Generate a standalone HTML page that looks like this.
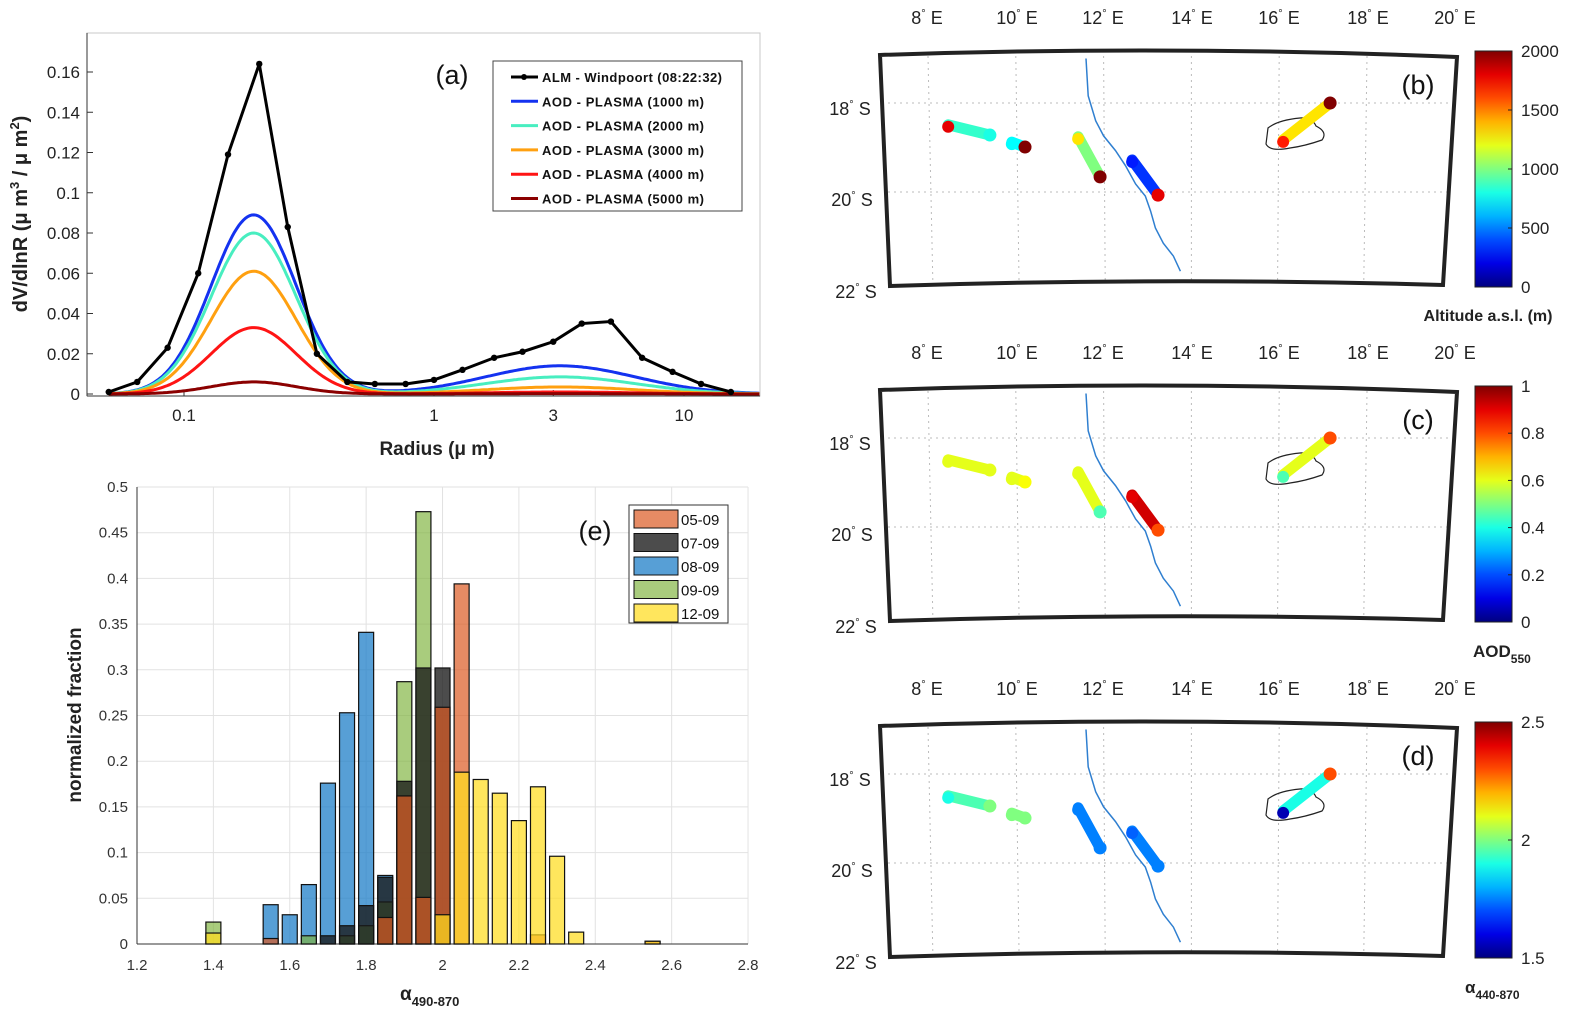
<!DOCTYPE html>
<html><head><meta charset="utf-8">
<style>
html,body{margin:0;padding:0;background:#fff;}
svg{display:block;font-family:"Liberation Sans",sans-serif;}
</style></head>
<body>
<svg id="fig" width="1570" height="1014" viewBox="0 0 1570 1014" xmlns="http://www.w3.org/2000/svg">
<g id="pa"></g>
<g id="pe"></g>
<g id="pm"></g>
</svg>
<script>
// ---------- Panel (a) data ----------
const aRadii = [0.05,0.065,0.086,0.114,0.15,0.2,0.26,0.34,0.45,0.58,0.77,1.0,1.3,1.74,2.26,3.0,3.9,5.1,6.8,9.0,11.7,15.4];
const aAlm = [0.001,0.006,0.023,0.060,0.119,0.164,0.083,0.020,0.006,0.005,0.005,0.007,0.012,0.018,0.021,0.026,0.035,0.036,0.018,0.011,0.005,0.001];
const aSeriesNames = ["AOD - PLASMA (1000 m)","AOD - PLASMA (2000 m)","AOD - PLASMA (3000 m)","AOD - PLASMA (4000 m)","AOD - PLASMA (5000 m)"];
const aFineAmp = [0.089,0.080,0.061,0.033,0.006];
const aCoarseAmp = [0.014,0.0085,0.0035,0.001,0.0002];
const aYTicks = [0,0.02,0.04,0.06,0.08,0.1,0.12,0.14,0.16];
const aYTickLabels = ["0","0.02","0.04","0.06","0.08","0.1","0.12","0.14","0.16"];
const aXTicks = [0.1,1,3,10];
const aXTickLabels = ["0.1","1","3","10"];
// ---------- Panel (e) data ----------
const eBins = [1.40,1.55,1.60,1.65,1.70,1.75,1.80,1.85,1.90,1.95,2.00,2.05,2.10,2.15,2.20,2.25,2.30,2.35,2.55];
const e0509 = [0,0.006,0,0,0,0,0,0.029,0.162,0.051,0.259,0.394,0,0,0,0.010,0,0,0.003];
const e0709 = [0,0,0,0,0.009,0.020,0.042,0.073,0.178,0.302,0.302,0,0,0,0,0,0,0,0];
const e0809 = [0,0.043,0.032,0.065,0.176,0.253,0.341,0.075,0,0,0,0,0,0,0,0,0,0,0];
const e0909 = [0.024,0,0,0.009,0,0.009,0.020,0.046,0.287,0.473,0,0,0,0,0,0,0,0,0];
const e1209 = [0.012,0,0,0,0,0,0,0,0,0,0.032,0.188,0.180,0.165,0.135,0.172,0.096,0.013,0.003];
const eNames = ["05-09","07-09","08-09","09-09","12-09"];
const eYTicks = [0,0.05,0.1,0.15,0.2,0.25,0.3,0.35,0.4,0.45,0.5];
const eYTickLabels = ["0","0.05","0.1","0.15","0.2","0.25","0.3","0.35","0.4","0.45","0.5"];
const eXTicks = [1.2,1.4,1.6,1.8,2,2.2,2.4,2.6,2.8];
const eXTickLabels = ["1.2","1.4","1.6","1.8","2","2.2","2.4","2.6","2.8"];
// ---------- Map data (lon E, lat S) ----------
const trackStart = [[8.46,18.49],[9.91,18.88],[11.42,18.76],[12.65,19.28],[16.09,18.83]];
const trackEnd = [[9.41,18.72],[10.21,18.99],[11.92,19.66],[13.24,20.07],[17.16,18.0]];
const mapBStart = [1800,750,1300,300,1700];
const mapBBody = [850,750,1000,350,1300];
const mapBEnd = [800,2000,2000,1800,2000];
const mapCStart = [0.6,0.6,0.6,0.9,0.45];
const mapCBody = [0.6,0.6,0.6,0.92,0.6];
const mapCEnd = [0.6,0.62,0.45,0.8,0.8];
const mapDStart = [1.9,2.0,1.75,1.72,1.55];
const mapDBody = [1.95,2.0,1.75,1.75,1.9];
const mapDEnd = [2.0,2.0,1.75,1.75,2.3];
const coastLon = [11.6,11.65,11.82,12.0,12.27,12.5,12.73,12.95,13.07,13.18,13.36,13.59,13.75];
const coastLat = [17.0,17.84,18.4,18.74,19.07,19.41,19.82,20.09,20.43,20.81,21.15,21.44,21.78];

const NS="http://www.w3.org/2000/svg";
function mk(parent,tag,attrs,text){const e=document.createElementNS(NS,tag);for(const k in attrs)e.setAttribute(k,attrs[k]);if(text!==undefined)e.textContent=text;parent.appendChild(e);return e;}

// ===== Panel A =====
const pa=document.getElementById('pa');
const ax0=87,ax1=760,ay0=33,ay1=394;
const xA=r=>184+(Math.log10(r)+1)*250;
const yA=v=>394-v/0.02*40.25;
let e;
e=mk(pa,'rect',{x:ax0,y:ay0,width:ax1-ax0,height:ay1-ay0+2,fill:'none',stroke:'#c8c8c8','stroke-width':1});


e=mk(pa,'line',{x1:ax0,y1:396,x2:ax1,y2:396,stroke:'#333','stroke-width':1});


e=mk(pa,'line',{x1:ax0,y1:ay0,x2:ax0,y2:396,stroke:'#333','stroke-width':1});


aYTicks.forEach((t,i)=>{
  mk(pa,'line',{x1:ax0,y1:yA(t),x2:ax0+6,y2:yA(t),stroke:'#333'});
  e=mk(pa,'text',{x:80,y:yA(t)+6,'text-anchor':'end','font-size':17,fill:'#222'},aYTickLabels[i]);
  
  
});
aXTicks.forEach((t,i)=>{
  mk(pa,'line',{x1:xA(t),y1:396,x2:xA(t),y2:390,stroke:'#333'});
  e=mk(pa,'text',{x:xA(t),y:421,'text-anchor':'middle','font-size':17,fill:'#222'},aXTickLabels[i]);
  
  
});
e=mk(pa,'text',{x:437,y:455,'text-anchor':'middle','font-size':19,'font-weight':'bold',fill:'#222'},'Radius (μ m)');


e=mk(pa,'text',{transform:'translate(27,214) rotate(-90)','text-anchor':'middle','font-size':20,'font-weight':'bold',fill:'#222'});
e.innerHTML='dV/dlnR (μ m<tspan dy="-8" font-size="13">3</tspan><tspan dy="8"> / μ m</tspan><tspan dy="-8" font-size="13">2</tspan><tspan dy="8">)</tspan>';


e=mk(pa,'text',{x:452,y:84,'text-anchor':'middle','font-size':27,fill:'#111'},'(a)');


const aColors=['#1432f0','#48eec0','#ffa010','#ff1414','#8b0000'];
function lognorm(r,amp,mu,sig){const d=Math.log10(r)-Math.log10(mu);return amp*Math.exp(-d*d/(2*sig*sig));}
aFineAmp.forEach((fa,i)=>{
  let d='';
  for(let k=0;k<=300;k++){const lr=Math.log10(0.05)+k*(Math.log10(20)-Math.log10(0.05))/300;const r=Math.pow(10,lr);
    const v=lognorm(r,fa,0.19,0.17)+lognorm(r,aCoarseAmp[i],3.2,0.3);
    d+=(k?'L':'M')+xA(r).toFixed(1)+','+yA(v).toFixed(1);}
  e=mk(pa,'path',{d:d,fill:'none',stroke:aColors[i],'stroke-width':3});
  
  
});
{let d='';aRadii.forEach((r,i)=>{d+=(i?'L':'M')+xA(r)+','+yA(aAlm[i]);});
 e=mk(pa,'path',{d:d,fill:'none',stroke:'#000','stroke-width':3});
 
 
 aRadii.forEach((r,i)=>{e=mk(pa,'circle',{cx:xA(r),cy:yA(aAlm[i]),r:3.2,fill:'#000'});
  
  });}
// legend a
e=mk(pa,'rect',{x:493,y:61,width:249,height:150,fill:'#fff',stroke:'#444','stroke-width':1});


const aLegNames=['ALM - Windpoort (08:22:32)'].concat(aSeriesNames);
const aLegCols=['#000'].concat(aColors);
aLegNames.forEach((n,i)=>{const y=77+i*24.3;
  mk(pa,'line',{x1:511,y1:y,x2:538,y2:y,stroke:aLegCols[i],'stroke-width':3});
  if(i===0)mk(pa,'circle',{cx:524,cy:y,r:3,fill:'#000'});
  e=mk(pa,'text',{x:542,y:y+5,'font-size':13,'font-weight':'bold',fill:'#111',textLength:i===0?180:162},n);
  
  
});

// ===== Panel E =====
const pe=document.getElementById('pe');
const ex0=137,ex1=748,ey0=487,ey1=944;
const xE=v=>137+(v-1.2)*381.9;
const yE=v=>944-v*914;
eYTicks.forEach((t,i)=>{
  mk(pe,'line',{x1:ex0,y1:yE(t),x2:ex1,y2:yE(t),stroke:'#e2e2e2','stroke-width':1});
  e=mk(pe,'text',{x:128,y:yE(t)+5,'text-anchor':'end','font-size':15,fill:'#333'},eYTickLabels[i]);
  
  
});
eXTicks.forEach((t,i)=>{
  mk(pe,'line',{x1:xE(t),y1:ey0,x2:xE(t),y2:ey1,stroke:'#e2e2e2','stroke-width':1});
  e=mk(pe,'text',{x:xE(t),y:970,'text-anchor':'middle','font-size':15,fill:'#333'},eXTickLabels[i]);
  
  
});
mk(pe,'line',{x1:ex0,y1:ey0,x2:ex0,y2:ey1,stroke:'#333'});
mk(pe,'line',{x1:ex0,y1:ey1,x2:ex1,y2:ey1,stroke:'#333'});
const eSeries=[e0509,e0709,e0809,e0909,e1209];
const eCols=['#dc5a22','#1a1a1a','#1f7fc8','#80b440','#ffdc1e'];
const eOps=[0.7,0.78,0.75,0.68,0.72];
const eOrder=[2,3,1,0,4];
eOrder.forEach(si=>{
  const s=eSeries[si];
  s.forEach((v,bi)=>{ if(v<=0) return;
    const cx=xE(eBins[bi]);
    e=mk(pe,'rect',{x:cx-7.5,y:yE(v),width:15,height:ey1-yE(v),fill:eCols[si],'fill-opacity':eOps[si],stroke:'#111','stroke-width':1.2});
    
    
  });
});
e=mk(pe,'text',{x:595,y:540,'text-anchor':'middle','font-size':27,fill:'#111'},'(e)');


e=mk(pe,'text',{transform:'translate(81,715) rotate(-90)','text-anchor':'middle','font-size':19,'font-weight':'bold',fill:'#222'},'normalized fraction');


e=mk(pe,'text',{x:400,y:1000,'font-size':19,fill:'#222','font-weight':'bold'});
e.innerHTML='α<tspan dy="6" font-size="13">490-870</tspan>';


e=mk(pe,'rect',{x:629,y:505,width:99,height:118,fill:'#fff',stroke:'#333'});


eNames.forEach((n,i)=>{const y=508+i*23.5;
  mk(pe,'rect',{x:634,y:y+2,width:44,height:18,fill:eCols[i],'fill-opacity':eOps[i],stroke:'#111'});
  e=mk(pe,'text',{x:681,y:y+17,'font-size':15,fill:'#111'},n);
  
  
});

// ===== Maps =====
const pm=document.getElementById('pm');
const lonX=l=>928+(l-8)*43.9;
const latY=l=>103+(l-18)*44.5;
function jet(t){t=Math.max(0,Math.min(1,t));
  const r=Math.max(0,Math.min(1,1.5-Math.abs(4*t-3))),g=Math.max(0,Math.min(1,1.5-Math.abs(4*t-2))),b=Math.max(0,Math.min(1,1.5-Math.abs(4*t-1)));
  return 'rgb('+Math.round(r*255)+','+Math.round(g*255)+','+Math.round(b*255)+')';}
const panels=[
 {off:0,lab:'(b)',min:0,max:2000,s:mapBStart,b:mapBBody,e:mapBEnd,ticks:[0,500,1000,1500,2000],tl:['0','500','1000','1500','2000'],name:'b'},
 {off:335,lab:'(c)',min:0,max:1,s:mapCStart,b:mapCBody,e:mapCEnd,ticks:[0,0.2,0.4,0.6,0.8,1],tl:['0','0.2','0.4','0.6','0.8','1'],name:'c'},
 {off:671,lab:'(d)',min:1.5,max:2.5,s:mapDStart,b:mapDBody,e:mapDEnd,ticks:[1.5,2,2.5],tl:['1.5','2','2.5'],name:'d'}];
const lonTicks=[8,10,12,14,16,18,20];
panels.forEach((p,pi)=>{
  const g=mk(pm,'g',{transform:'translate(0,'+p.off+')'});
  
  
  mk(g,'path',{d:'M880,55 Q1168,45 1457,57 L1443,285 Q1168,277 890,286 Z',fill:'#fff'});
  lonTicks.slice(0,6).forEach(l=>{mk(g,'line',{x1:lonX(l),y1:56,x2:lonX(l)+(l-14)*-0.8,y2:280,stroke:'#bbb','stroke-dasharray':'2,4','stroke-width':1});});
  [18,20].forEach(l=>{mk(g,'line',{x1:888,y1:latY(l),x2:1450,y2:latY(l),stroke:'#bbb','stroke-dasharray':'2,4','stroke-width':1});});
  lonTicks.forEach((l,i)=>{const x=[927,1017,1103,1192,1279,1368,1455][i];
    e=mk(g,'text',{x:x,y:24,'text-anchor':'middle','font-size':18,fill:'#222'});
    e.innerHTML=l+'<tspan dy="-7" font-size="11">°</tspan><tspan dy="7"> E</tspan>';
    
    });
  [[18,850,115],[20,852,206],[22,856,298]].forEach(a=>{
    e=mk(g,'text',{x:a[1],y:a[2],'text-anchor':'middle','font-size':18,fill:'#222'});
    e.innerHTML=a[0]+'<tspan dy="-7" font-size="11">°</tspan><tspan dy="7"> S</tspan>';
    
    });
  let cd='';coastLon.forEach((l,i)=>{cd+=(i?'L':'M')+lonX(l).toFixed(1)+','+latY(coastLat[i]).toFixed(1);});
  e=mk(g,'path',{d:cd,fill:'none',stroke:'#2f7fd0','stroke-width':1.5});
  
  
  e=mk(g,'path',{d:'M1268,128 Q1278,120 1300,118 Q1312,117 1316,126 Q1328,132 1322,140 Q1305,146 1290,148 Q1270,152 1266,144 Z',fill:'none',stroke:'#222','stroke-width':1.2});
  
  
  trackStart.forEach((st,ti)=>{
    const en=trackEnd[ti];
    const x1=lonX(st[0]),y1=latY(st[1]),x2=lonX(en[0]),y2=latY(en[1]);
    const c=v=>jet((v-p.min)/(p.max-p.min));
    e=mk(g,'line',{x1:x1,y1:y1,x2:x2,y2:y2,stroke:c(p.b[ti]),'stroke-width':11,'stroke-linecap':'round'});
    
    
    e=mk(g,'circle',{cx:x1,cy:y1+2,r:6,fill:c(p.s[ti])});
    
    
    e=mk(g,'circle',{cx:x2,cy:y2,r:6.5,fill:c(p.e[ti])});
    
    
  });
  e=mk(g,'path',{d:'M880,55 Q1168,45 1457,57 L1443,285 Q1168,277 890,286 Z',fill:'none',stroke:'#222','stroke-width':4});
  
  
  e=mk(g,'text',{x:1418,y:94,'text-anchor':'middle','font-size':27,fill:'#111'},p.lab);
  
  
  // colorbar
  const gid='jg'+pi;
  const defs=mk(g,'defs',{});
  const lg=mk(defs,'linearGradient',{id:gid,x1:0,y1:1,x2:0,y2:0});
  for(let k=0;k<=10;k++)mk(lg,'stop',{offset:k/10,'stop-color':jet(k/10)});
  const cx0=1475,cy0=51,cy1=287;
  e=mk(g,'rect',{x:cx0,y:cy0,width:37,height:cy1-cy0,fill:'url(#'+gid+')',stroke:'#222','stroke-width':1});
  
  
  p.ticks.forEach((t,i)=>{const y=cy1-(t-p.min)/(p.max-p.min)*(cy1-cy0);
    mk(g,'line',{x1:cx0+33,y1:y,x2:cx0+37,y2:y,stroke:'#222'});
    e=mk(g,'text',{x:1521,y:y+6,'font-size':17,fill:'#222'},p.tl[i]);
    
    });
});
e=mk(pm,'text',{x:1488,y:321,'text-anchor':'middle','font-size':16,'font-weight':'bold',fill:'#222'},'Altitude a.s.l. (m)');


e=mk(pm,'text',{x:1473,y:657,'font-size':17,'font-weight':'bold',fill:'#222'});
e.innerHTML='AOD<tspan dy="6" font-size="12">550</tspan>';


e=mk(pm,'text',{x:1465,y:993,'font-size':17,'font-weight':'bold',fill:'#222'});
e.innerHTML='α<tspan dy="6" font-size="12">440-870</tspan>';


</script>
</body></html>
